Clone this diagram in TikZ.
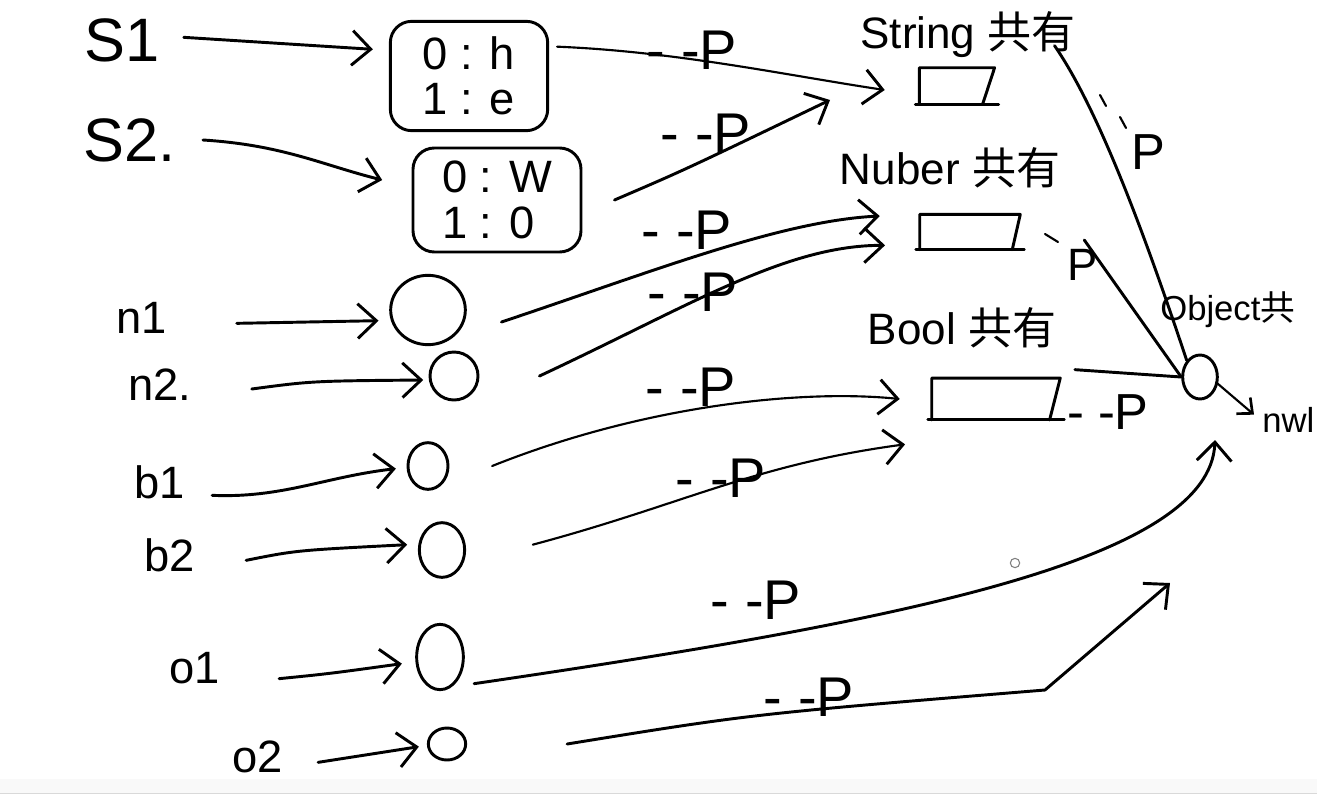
\documentclass[tikz,border=0pt]{standalone}
\usepackage{fontspec}
\setmainfont{Liberation Sans}
\newfontfamily\cjk{Noto Sans CJK SC}
\usetikzlibrary{arrows.meta,shapes.geometric}
\begin{document}
\begin{tikzpicture}[x=0.75pt,y=-0.75pt,
  ink/.style={line width=2.2pt, line cap=round, line join=round},
  thin/.style={line width=1.6pt, line cap=round, line join=round},
  barb/.style={-{Straight Barb[length=14pt,width=26pt,line width=2.2pt]}},
  sbarb/.style={-{Straight Barb[length=9pt,width=16pt,line width=2pt]}},
  blob/.style={draw, ellipse, line width=2.2pt, inner sep=0pt},
  varlbl/.style={font=\fontsize{34}{34}\selectfont, inner sep=0pt},
  biglbl/.style={font=\fontsize{46}{46}\selectfont, inner sep=0pt},
  plab/.style={font=\fontsize{42}{42}\selectfont, inner sep=0pt},
  typelbl/.style={font=\fontsize{33}{33}\selectfont, inner sep=0pt},
  edgelbl/.style={font=\fontsize{26}{26}\selectfont, inner sep=0pt},
  cell/.style={draw, line width=2.2pt, rounded corners=16pt, align=left, font=\fontsize{34}{34}\selectfont, inner sep=4pt},
  tbox/.style={inner sep=0pt},
]
\useasboundingbox (0,0) rectangle (1317,803);
\fill[white] (0,0) rectangle (1317,803);
\fill[gray!5] (0,779) rectangle (1317,793);
\draw[gray!30, line width=0.6pt] (0,793) -- (1317,793);

% variable labels
\node[biglbl] (s1) at (122,40) {S1};
\node[biglbl] (s2) at (130,140) {S2.};
\node[varlbl] (n1l) at (142,318) {n1};
\node[varlbl] (n2l) at (160,385) {n2.};
\node[varlbl] (b1l) at (160,482) {b1};
\node[varlbl] (b2l) at (170,555) {b2};
\node[varlbl] (o1l) at (195,668) {o1};
\node[varlbl] (o2l) at (258,757) {o2};

% string boxes
\node[cell, minimum width=118pt, minimum height=82pt] (box1) at (469,76) {0 : h\\1 : e};
\node[cell, minimum width=126pt, minimum height=78pt] (box2) at (497,200) {0 : W\\1 : 0};

% value blobs
\node[blob, minimum width=56pt, minimum height=52pt] (n1c) at (428,310) {};
\node[blob, minimum width=36pt, minimum height=36pt] (n2c) at (454,376) {};
\node[blob, minimum width=30pt, minimum height=35pt] (b1c) at (428,466) {};
\node[blob, minimum width=34pt, minimum height=41pt] (b2c) at (442,550) {};
\node[blob, minimum width=35pt, minimum height=49pt] (o1c) at (440,657) {};
\node[blob, minimum width=28pt, minimum height=24pt] (o2c) at (447,744) {};

% label -> value arrows
\draw[ink,barb] ([xshift=18pt,yshift=2pt]s1.east) -- ([xshift=-12pt,yshift=20pt]box1.west);
\draw[ink,barb] ([xshift=20pt]s2.east) .. controls +(80,5) and +(-60,-15) .. ([xshift=-22pt,yshift=15pt]box2.west);
\draw[ink,barb] ([xshift=52pt,yshift=-4pt]n1l.east) -- ([xshift=-8pt,yshift=-8pt]n1c.west);
\draw[ink,barb] ([xshift=45pt,yshift=-3pt]n2l.east) .. controls +(60,-8) .. ([xshift=-4pt,yshift=-3pt]n2c.west);
\draw[ink,barb] ([xshift=20pt,yshift=-10pt]b1l.east) .. controls +(70,3) and +(-70,8) .. ([xshift=-8pt,yshift=-2pt]b1c.west);
\draw[ink,barb] ([xshift=38pt,yshift=-4pt]b2l.east) .. controls +(50,-10) .. ([xshift=-8pt,yshift=4pt]b2c.west);
\draw[ink,barb] ([xshift=44pt,yshift=-8pt]o1l.east) .. controls +(50,-5) .. ([xshift=-10pt,yshift=-5pt]o1c.west);
\draw[ink,barb] ([xshift=26pt,yshift=-4pt]o2l.east) -- ([xshift=-6pt,yshift=-2pt]o2c.west);

% type boxes
\node[tbox, minimum width=56pt, minimum height=27pt] (strbox) at (957,86) {};
\node[tbox, minimum width=75pt, minimum height=26pt] (numbox) at (970,232) {};
\node[tbox, minimum width=96pt, minimum height=31pt] (boolbox) at (996,399) {};
\foreach \b/\s in {strbox/9pt,numbox/6pt,boolbox/8pt}{
  \draw[ink] (\b.south west) -- (\b.north west) -- (\b.north east) -- ([xshift=-\s]\b.south east);
  \draw[ink] ([xshift=-3pt]\b.south west) -- ([xshift=3pt]\b.south east);
}
\node[typelbl] (strl) at (968,35) {String {\cjk 共有}};
\node[typelbl] (numl) at (950,168) {Nuber {\cjk 共有}};
\node[typelbl] (booll) at (962,328) {Bool {\cjk 共有}};

% object
\node[blob, minimum width=26pt, minimum height=33pt] (obj) at (1200,377) {};
\node[edgelbl, anchor=west] (objl) at (1160,310) {Object{\cjk 共}};
\node[edgelbl, anchor=west] (nwl) at (1262,420) {nwl};
\node[draw, circle, gray, line width=0.8pt, minimum size=7pt, inner sep=0pt] (dot) at (1015,563) {};

% value -> type connectors
\coordinate (e2) at (830,100);
\coordinate (e7) at (1215,440);
\coordinate (e8) at (1170,583);
\coordinate (k8) at (1045,690);
\draw[thin,barb] ([xshift=6pt,yshift=22pt]box1.east) .. controls +(120,5) and +(-100,-15) .. ([xshift=-26pt,yshift=-3pt]strbox.west);
\draw[ink,barb] ([xshift=24pt]box2.east) .. controls +(70,-30) .. (e2);
\draw[ink,barb] ([xshift=26pt,yshift=-9pt]n1c.east) .. controls +(150,-50) and +(-100,5) .. ([xshift=-30pt,yshift=12pt]numbox.west);
\draw[ink,barb] ([xshift=45pt]n2c.east) .. controls +(150,-70) and +(-100,0) .. ([xshift=-26pt,yshift=-10pt]numbox.west);
\draw[thin,barb] ([xshift=32pt]b1c.east) .. controls +(150,-60) and +(-100,-10) .. ([xshift=-24pt]boolbox.west);
\draw[thin,barb] ([xshift=50pt,yshift=4pt]b2c.east) .. controls +(150,-40) and +(-150,20) .. ([xshift=-20pt,yshift=-34pt]boolbox.west);
\draw[ink,barb] ([xshift=7pt,yshift=-20pt]o1c.east) .. controls +(430,-63) and +(-5,120) .. (e7);
\draw[ink,barb] ([xshift=75pt]o2c.east) .. controls +(185,-30) .. (k8) -- (e8);

% type -> object
\draw[ink] ([xshift=-16pt,yshift=-8pt]strl.east) .. controls +(45,65) and +(-40,-120) .. (obj.north west);
\draw[ink] ([xshift=48pt,yshift=-6pt]numbox.east) -- (obj.west);
\draw[ink] ([xshift=11pt,yshift=22pt]boolbox.east) -- (obj.west);
\draw[thin,sbarb] ([xshift=-2pt,yshift=-4pt]obj.east) -- ([xshift=-6pt,yshift=4pt]nwl.west);

% P labels
\node[plab] (p1) at (692,50) {- -P};
\node[plab] (p2) at (706,133) {- -P};
\node[plab] (p3) at (687,230) {- -P};
\node[plab] (p4) at (693,292) {- -P};
\node[plab] (p5) at (691,387) {- -P};
\node[plab] (p6) at (721,478) {- -P};
\node[plab] (p7) at (756,600) {- -P};
\node[plab] (p8) at (809,697) {- -P};
\node[plab, font=\fontsize{38}{38}\selectfont] (p11) at (1108,412) {- -P};
\node[plab, font=\fontsize{38}{38}\selectfont] (p9) at (1148,152) {P};
\draw[thin] (1100,95) -- (1106,106);
\draw[thin] (1120,117) -- (1126,128);
\node[plab, font=\fontsize{34}{34}\selectfont] (p10) at (1083,265) {P};
\draw[thin] (1045,234) -- (1058,242);
\end{tikzpicture}
\end{document}
